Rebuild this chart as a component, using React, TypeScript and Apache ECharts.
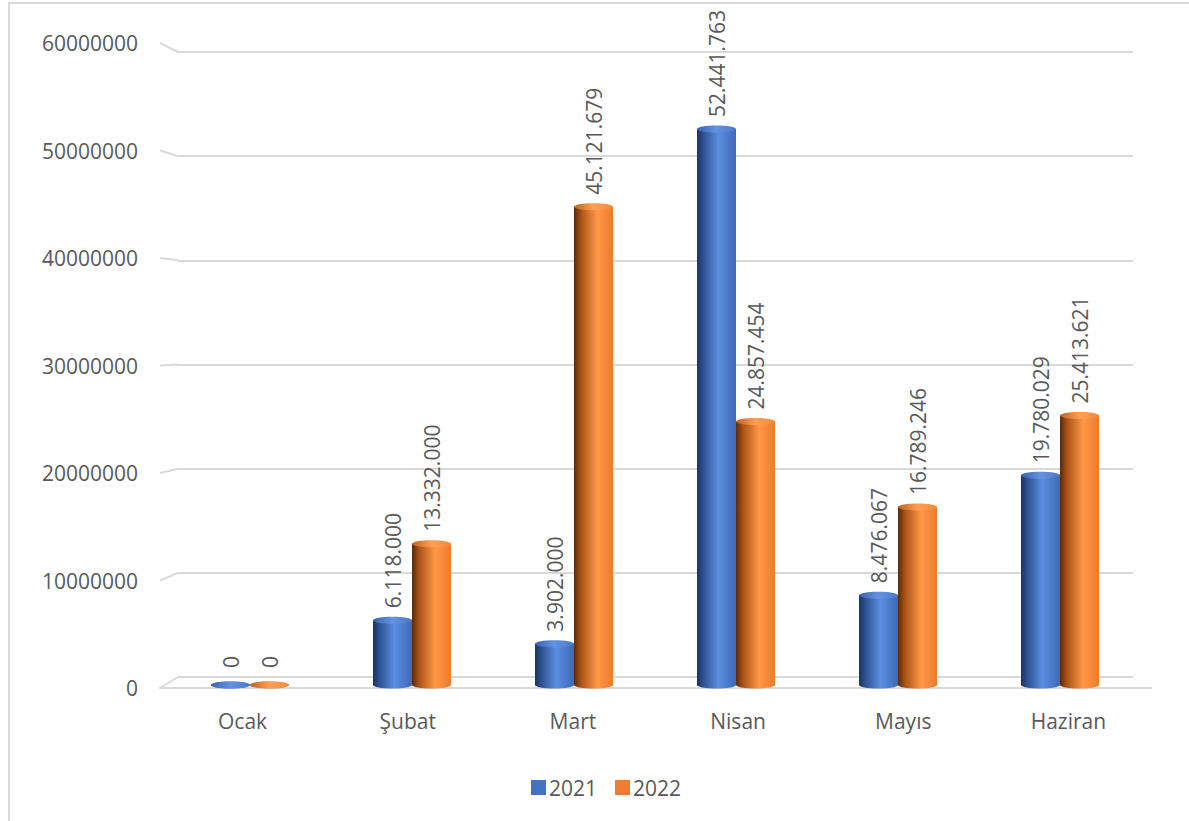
import React, { useEffect, useRef } from "react";
import * as echarts from "echarts";

const categories = ["Ocak", "Şubat", "Mart", "Nisan", "Mayıs", "Haziran"];
const values2021 = [0, 6118000, 3902000, 52441763, 8476067, 19780029];
const values2022 = [0, 13332000, 45121679, 24857454, 16789246, 25413621];
const seriesNames = ["2021", "2022"];
const yMin = 0;
const yMax = 60000000;
const yInterval = 10000000;

const FONT = "'Open Sans', sans-serif";
const TEXT = "#595959";
const GRID = "#d9d9d9";

const fmt = (v: number) => String(Math.round(v)).replace(/\B(?=(\d{3})+(?!\d))/g, ".");

const hGrad = (stops: [number, string][]) =>
  new echarts.graphic.LinearGradient(0, 0, 1, 0, stops.map(([offset, color]) => ({ offset, color })));

const blueBody = () =>
  hGrad([
    [0, "#1c3360"],
    [0.18, "#2f5496"],
    [0.55, "#5b8ee0"],
    [1, "#3c69b8"],
  ]);
const orangeBody = () =>
  hGrad([
    [0, "#5e2a07"],
    [0.2, "#b0561a"],
    [0.6, "#ff9845"],
    [1, "#ec7b2c"],
  ]);
const blueTop = () =>
  hGrad([
    [0, "#3a64ad"],
    [0.5, "#6393e2"],
    [1, "#4a78c6"],
  ]);
const orangeTop = () =>
  hGrad([
    [0, "#c0611f"],
    [0.5, "#ffa055"],
    [1, "#f08a3c"],
  ]);

const FRONT_LEFT = 160;
const BACK_LEFT = 178;
const BAR_W = 39;
const CAP_H = 7;

export default function App() {
  const ref = useRef<HTMLDivElement>(null);

  useEffect(() => {
    if (!ref.current) return;
    const chart = echarts.init(ref.current, undefined, { renderer: "svg" });

    const label = {
      show: true,
      position: "top" as const,
      rotate: 90,
      align: "left" as const,
      verticalAlign: "middle" as const,
      distance: 12,
      color: TEXT,
      fontSize: 21,
      fontFamily: FONT,
      formatter: (p: any) => fmt(p.value),
    };

    const withZeroLabel = (vals: number[]) =>
      vals.map((v) => (v === 0 ? { value: v, label: { distance: 17 } } : v));

    const capData = categories.map((_, i) => [i, values2021[i], values2022[i]]);

    const capRender = (top: boolean) => (params: any, api: any) => {
      const idx = api.value(0);
      const vals = [api.value(1), api.value(2)];
      const fills = top ? [blueTop(), orangeTop()] : [blueBody(), orangeBody()];
      const children = vals.map((v: number, k: number) => {
        const p = api.coord([idx, top ? v : 0]);
        const cx = p[0] + (k === 0 ? -BAR_W / 2 : BAR_W / 2);
        return {
          type: "ellipse",
          shape: { cx, cy: p[1], rx: BAR_W / 2, ry: CAP_H / 2 },
          style: { fill: fills[k] },
        };
      });
      return { type: "group", children };
    };

    chart.setOption({
      animation: false,
      backgroundColor: "#ffffff",
      textStyle: { fontFamily: FONT },
      legend: {
        left: 526,
        top: 772,
        itemWidth: 15,
        itemHeight: 15,
        itemGap: 18,
        icon: "rect",
        textStyle: { color: TEXT, fontSize: 21, fontFamily: FONT, padding: [0, 0, 0, -2] },
        data: [
          { name: seriesNames[0], itemStyle: { color: "#4472c4" } },
          { name: seriesNames[1], itemStyle: { color: "#ed7d31" } },
        ],
      },
      grid: [
        { left: FRONT_LEFT, right: 1189 - 1151, top: 43, bottom: 821 - 688 },
        { left: BACK_LEFT, right: 1189 - 1133, top: 52, bottom: 821 - 677 },
        { left: 169, right: 1189 - 1141, top: 49, bottom: 821 - 685 },
      ],
      xAxis: [
        {
          type: "category",
          gridIndex: 0,
          data: categories,
          axisLine: { show: true, lineStyle: { color: GRID, width: 2 } },
          axisTick: { show: false },
          axisLabel: { color: TEXT, fontSize: 21, fontFamily: FONT, margin: 22 },
        },
        { type: "category", gridIndex: 1, data: categories, show: false },
        { type: "category", gridIndex: 2, data: categories, show: false },
      ],
      yAxis: [
        {
          type: "value",
          gridIndex: 0,
          min: yMin,
          max: yMax,
          interval: yInterval,
          axisLine: { show: false },
          axisTick: { show: false },
          splitLine: { show: false },
          axisLabel: {
            color: TEXT,
            fontSize: 21,
            fontFamily: FONT,
            margin: 22,
            formatter: (v: number) => String(v),
          },
        },
        {
          type: "value",
          gridIndex: 1,
          min: yMin,
          max: yMax,
          interval: yInterval,
          axisLine: { show: false },
          axisTick: { show: false },
          axisLabel: { show: false },
          splitLine: { show: true, lineStyle: { color: GRID, width: 2 } },
        },
        {
          type: "value",
          gridIndex: 2,
          min: yMin,
          max: yMax,
          interval: yInterval,
          show: false,
          splitLine: { show: false },
        },
      ],
      series: [
        {
          name: seriesNames[0],
          type: "bar",
          xAxisIndex: 2,
          yAxisIndex: 2,
          data: withZeroLabel(values2021),
          barWidth: BAR_W,
          barGap: "0%",
          itemStyle: { color: blueBody() },
          label,
          z: 3,
        },
        {
          name: seriesNames[1],
          type: "bar",
          xAxisIndex: 2,
          yAxisIndex: 2,
          data: withZeroLabel(values2022),
          barWidth: BAR_W,
          barGap: "0%",
          itemStyle: { color: orangeBody() },
          label,
          z: 3,
        },
        {
          name: "bottomCaps",
          type: "custom",
          xAxisIndex: 2,
          yAxisIndex: 2,
          data: capData,
          encode: { x: 0, y: [1, 2] },
          renderItem: capRender(false),
          silent: true,
          z: 2,
        },
        {
          name: "topCaps",
          type: "custom",
          xAxisIndex: 2,
          yAxisIndex: 2,
          data: capData,
          encode: { x: 0, y: [1, 2] },
          renderItem: capRender(true),
          silent: true,
          z: 4,
        },
      ],
    });

    const ticks: number[] = [];
    for (let v = yMin; v <= yMax; v += yInterval) ticks.push(v);
    const diagonals = ticks.map((v) => {
      const yf = chart.convertToPixel({ yAxisIndex: 0 }, v) as number;
      const yb = chart.convertToPixel({ yAxisIndex: 1 }, v) as number;
      return {
        type: "line",
        shape: { x1: FRONT_LEFT, y1: yf, x2: BACK_LEFT, y2: yb },
        style: { stroke: GRID, lineWidth: 2 },
        silent: true,
        z: 1,
      };
    });

    chart.setOption({
      graphic: [
        {
          type: "rect",
          shape: { x: 9, y: 3, width: 1300, height: 1000 },
          style: { fill: "none", stroke: GRID, lineWidth: 2 },
          silent: true,
          z: 0,
        },
        ...diagonals,
      ],
    });

    return () => chart.dispose();
  }, []);

  return (
    <div
      ref={ref}
      style={{ position: "fixed", left: 0, top: 0, width: 1189, height: 821 }}
    />
  );
}
